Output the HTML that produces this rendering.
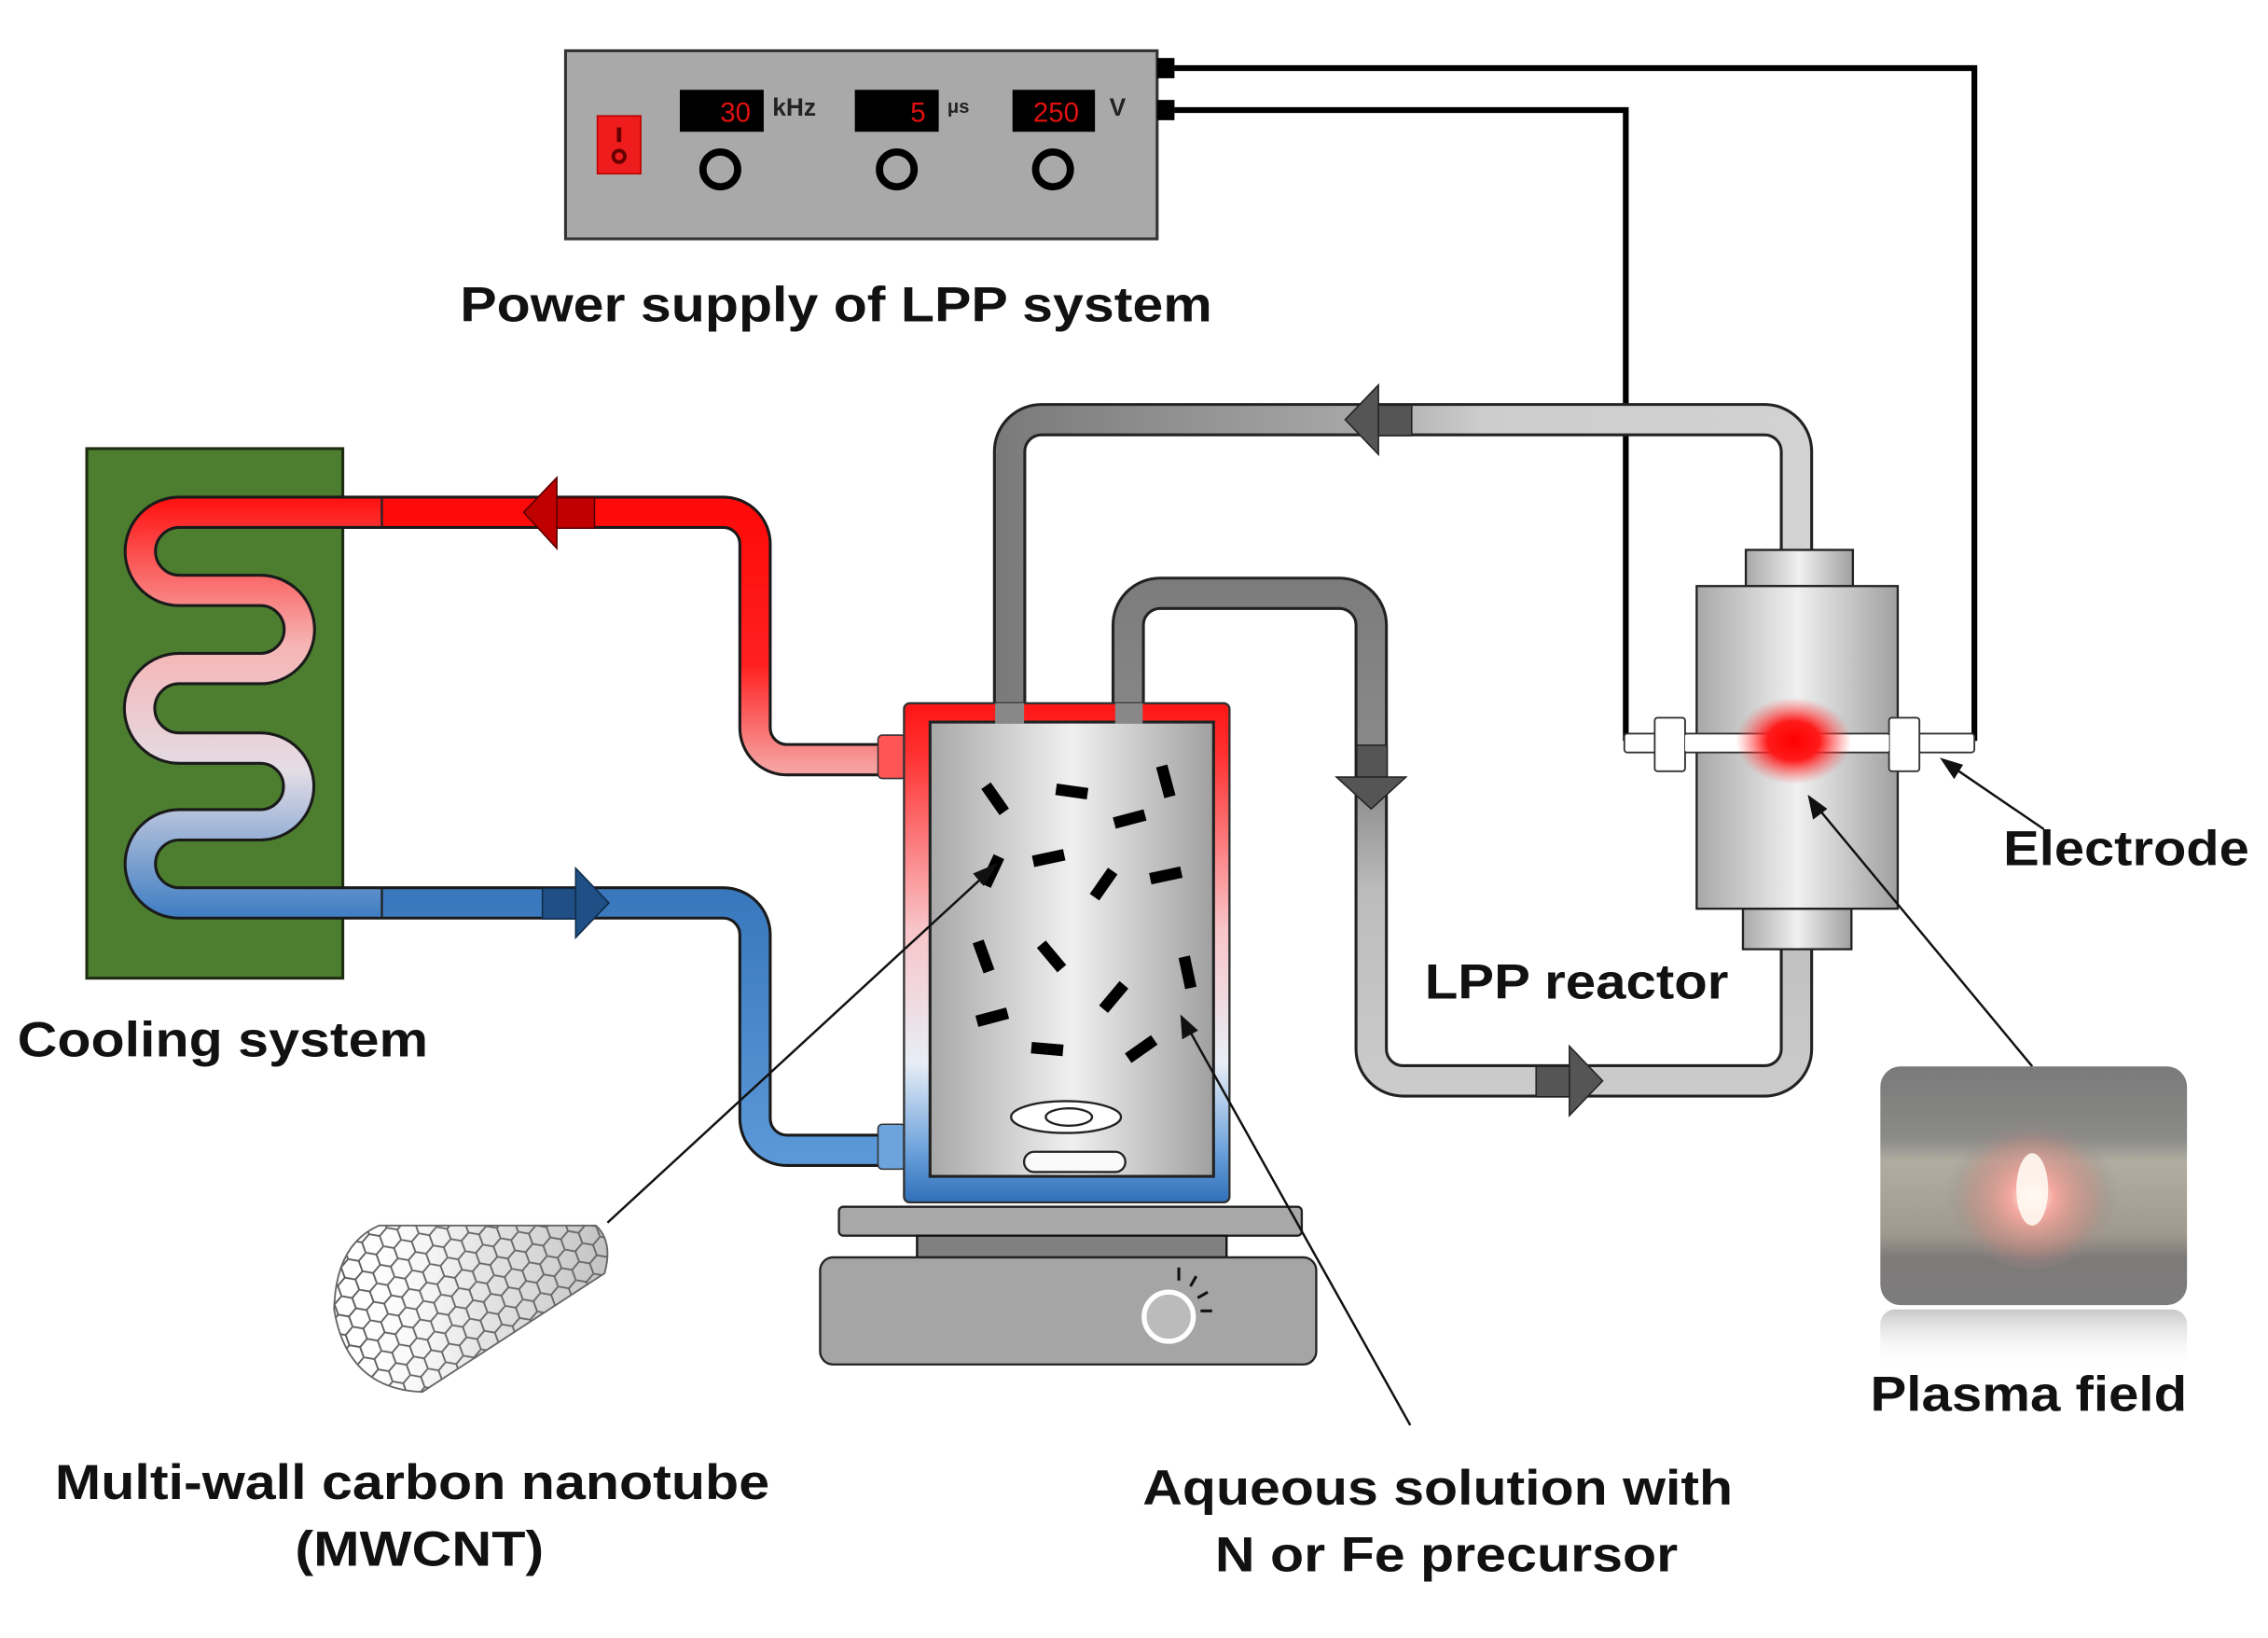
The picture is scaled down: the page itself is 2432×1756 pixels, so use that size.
<!DOCTYPE html>
<html><head><meta charset="utf-8"><style>
html,body{margin:0;padding:0;background:#fff;}
svg{display:block;}
text{font-family:"Liberation Sans",Arial,sans-serif;font-weight:bold;fill:#111;}
</style></head><body>
<svg width="2432" height="1756" viewBox="0 0 1568 1132" xmlns="http://www.w3.org/2000/svg">
<defs>
<linearGradient id="serp" gradientUnits="userSpaceOnUse" x1="0" y1="344" x2="0" y2="634">
<stop offset="0" stop-color="#ff1010"/><stop offset="0.35" stop-color="#f6b4b4"/><stop offset="0.65" stop-color="#e4dde6"/><stop offset="1" stop-color="#3e7dc2"/></linearGradient>
<linearGradient id="redp" gradientUnits="userSpaceOnUse" x1="0" y1="354" x2="0" y2="530">
<stop offset="0" stop-color="#ff0a0a"/><stop offset="0.6" stop-color="#ff2020"/><stop offset="1" stop-color="#f7a0a0"/></linearGradient>
<linearGradient id="bluep" gradientUnits="userSpaceOnUse" x1="0" y1="620" x2="0" y2="800">
<stop offset="0" stop-color="#3a78bd"/><stop offset="1" stop-color="#5a98d8"/></linearGradient>
<linearGradient id="jacket" x1="0" y1="0" x2="0" y2="1">
<stop offset="0" stop-color="#ff1515"/><stop offset="0.1" stop-color="#ff3030"/><stop offset="0.45" stop-color="#f8c4c8"/><stop offset="0.72" stop-color="#e8eef6"/><stop offset="0.9" stop-color="#6aa0da"/><stop offset="1" stop-color="#2f6fb8"/></linearGradient>
<linearGradient id="metal" x1="0" y1="0" x2="1" y2="0">
<stop offset="0" stop-color="#a8a8a8"/><stop offset="0.5" stop-color="#f0f0f0"/><stop offset="1" stop-color="#a0a0a0"/></linearGradient>
<linearGradient id="gp1" gradientUnits="userSpaceOnUse" x1="690" y1="0" x2="1250" y2="0">
<stop offset="0" stop-color="#7a7a7a"/><stop offset="0.45" stop-color="#a8a8a8"/><stop offset="0.6" stop-color="#cdcdcd"/><stop offset="1" stop-color="#d2d2d2"/></linearGradient>
<linearGradient id="gp2" gradientUnits="userSpaceOnUse" x1="0" y1="400" x2="0" y2="760">
<stop offset="0" stop-color="#7c7c7c"/><stop offset="0.4" stop-color="#8c8c8c"/><stop offset="0.6" stop-color="#bcbcbc"/><stop offset="1" stop-color="#cccccc"/></linearGradient>
<radialGradient id="glow" cx="0.5" cy="0.5" r="0.5">
<stop offset="0" stop-color="#ff0000"/><stop offset="0.45" stop-color="#ff1a1a"/><stop offset="1" stop-color="#ff5050" stop-opacity="0"/></radialGradient>
<radialGradient id="pglow" cx="0.5" cy="0.55" r="0.5">
<stop offset="0" stop-color="#fffaf4"/><stop offset="0.25" stop-color="#f4a8a0"/><stop offset="0.7" stop-color="#c88a80" stop-opacity="0.45"/><stop offset="1" stop-color="#888" stop-opacity="0"/></radialGradient>
<linearGradient id="photo" x1="0" y1="0" x2="0" y2="1">
<stop offset="0" stop-color="#7a7a7a"/><stop offset="0.3" stop-color="#8a8a88"/><stop offset="0.4" stop-color="#b0ada0"/><stop offset="0.7" stop-color="#a09a8e"/><stop offset="0.8" stop-color="#7e7a7a"/><stop offset="1" stop-color="#7c7c7c"/></linearGradient>
<linearGradient id="refl" x1="0" y1="0" x2="0" y2="1">
<stop offset="0" stop-color="#c8c8c8"/><stop offset="1" stop-color="#fff" stop-opacity="0"/></linearGradient>
<linearGradient id="tubeshade" gradientUnits="userSpaceOnUse" x1="240" y1="0" x2="420" y2="0">
<stop offset="0" stop-color="#fff" stop-opacity="0"/><stop offset="0.5" stop-color="#999" stop-opacity="0.25"/><stop offset="1" stop-color="#777" stop-opacity="0.45"/></linearGradient>
<pattern id="hex" width="13" height="22.5" patternUnits="userSpaceOnUse" patternTransform="rotate(-20)">
<path d="M0,3.75 L6.5,0 L13,3.75 M6.5,0 V-3 M0,3.75 V11.25 L6.5,15 L13,11.25 V3.75 M6.5,15 V22.5" fill="none" stroke="#555" stroke-width="1.2"/></pattern>
<clipPath id="tubeclip"><path d="M262,847 L412,847 Q424,858 418,880 L292,962 Q240,960 231,905 Q232,860 262,847 Z"/></clipPath>
</defs>

<!-- Power supply -->
<rect x="391" y="35" width="409" height="130" fill="#a9a9a9" stroke="#333" stroke-width="2"/>
<rect x="413" y="80" width="30" height="40" fill="#ee1c1c" stroke="#b00" stroke-width="1"/>
<line x1="428" y1="88" x2="428" y2="98" stroke="#600" stroke-width="3"/>
<circle cx="428" cy="108" r="4" fill="none" stroke="#600" stroke-width="2.5"/>
<rect x="470" y="62" width="58" height="29" fill="#000"/>
<rect x="591" y="62" width="58" height="29" fill="#000"/>
<rect x="700" y="62" width="57" height="29" fill="#000"/>
<text x="519" y="84" font-size="19" text-anchor="end" style="fill:#e01010;font-weight:normal">30</text>
<text x="640" y="84" font-size="19" text-anchor="end" style="fill:#e01010;font-weight:normal">5</text>
<text x="746" y="84" font-size="19" text-anchor="end" style="fill:#e01010;font-weight:normal">250</text>
<text x="534" y="80" font-size="17" style="fill:#222">kHz</text>
<text x="655" y="78" font-size="13" style="fill:#222">μs</text>
<text x="767" y="80" font-size="17" style="fill:#222">V</text>
<circle cx="498" cy="117" r="12" fill="#a9a9a9" stroke="#000" stroke-width="5"/>
<circle cx="620" cy="117" r="12" fill="#a9a9a9" stroke="#000" stroke-width="5"/>
<circle cx="728" cy="117" r="12" fill="#a9a9a9" stroke="#000" stroke-width="5"/>
<rect x="800" y="40" width="12" height="14" fill="#000"/>
<rect x="800" y="69" width="12" height="14" fill="#000"/>
<text x="318" y="222" font-size="34" textLength="520" lengthAdjust="spacingAndGlyphs">Power supply of LPP system</text>

<!-- wires -->
<polyline points="812,47 1365,47 1365,512" fill="none" stroke="#000" stroke-width="4"/>
<polyline points="812,76 1124,76 1124,512" fill="none" stroke="#000" stroke-width="4"/>

<!-- Green cooler -->
<rect x="60" y="310" width="177" height="366" fill="#4d7e2f" stroke="#1d2d12" stroke-width="2"/>
<path d="M264,354 H124 A27,27 0 0 0 124,408 H180 A27,27 0 0 1 180,462 H124 A27.5,27.5 0 0 0 124,517 H180 A26.5,26.5 0 0 1 180,570 H124 A27,27 0 0 0 124,624 H264" fill="none" stroke="#1a1a1a" stroke-width="23"/>
<path d="M264,354 H124 A27,27 0 0 0 124,408 H180 A27,27 0 0 1 180,462 H124 A27.5,27.5 0 0 0 124,517 H180 A26.5,26.5 0 0 1 180,570 H124 A27,27 0 0 0 124,624 H264" fill="none" stroke="url(#serp)" stroke-width="19"/>

<!-- red pipe -->
<path d="M264,354 H500 A22,22 0 0 1 522,376 V503 A22,22 0 0 0 544,525 H610" fill="none" stroke="#1a1a1a" stroke-width="23"/>
<path d="M264,354 H500 A22,22 0 0 1 522,376 V503 A22,22 0 0 0 544,525 H610" fill="none" stroke="url(#redp)" stroke-width="19"/>
<line x1="264" y1="344" x2="264" y2="364" stroke="#222" stroke-width="1.5"/>
<rect x="384" y="344" width="27" height="21" fill="#c00000" stroke="#500" stroke-width="1"/>
<polygon points="385,330 362,354 385,379" fill="#c00000" stroke="#500" stroke-width="1"/>

<!-- blue pipe -->
<path d="M264,624 H500 A22,22 0 0 1 522,646 V773 A22,22 0 0 0 544,795 H610" fill="none" stroke="#1a1a1a" stroke-width="23"/>
<path d="M264,624 H500 A22,22 0 0 1 522,646 V773 A22,22 0 0 0 544,795 H610" fill="none" stroke="url(#bluep)" stroke-width="19"/>
<line x1="264" y1="614" x2="264" y2="634" stroke="#222" stroke-width="1.5"/>
<rect x="375" y="614" width="24" height="21" fill="#1f4f85" stroke="#0f2a48" stroke-width="1"/>
<polygon points="398,600 421,624 398,648" fill="#1f4f85" stroke="#0f2a48" stroke-width="1"/>

<!-- gray loop top -->
<path d="M698,500 V312 A22,22 0 0 1 720,290 H1220 A22,22 0 0 1 1242,312 V382" fill="none" stroke="#222" stroke-width="23"/>
<path d="M698,500 V312 A22,22 0 0 1 720,290 H1220 A22,22 0 0 1 1242,312 V382" fill="none" stroke="url(#gp1)" stroke-width="19"/>
<rect x="952" y="280" width="24" height="21" fill="#555" stroke="#222" stroke-width="1"/>
<polygon points="953,266 930,290 953,314" fill="#555" stroke="#222" stroke-width="1"/>

<!-- gray loop 2 -->
<path d="M780,500 V432 A22,22 0 0 1 802,410 H926 A22,22 0 0 1 948,432 V725 A22,22 0 0 0 970,747 H1220 A22,22 0 0 0 1242,725 V654" fill="none" stroke="#222" stroke-width="23"/>
<path d="M780,500 V432 A22,22 0 0 1 802,410 H926 A22,22 0 0 1 948,432 V725 A22,22 0 0 0 970,747 H1220 A22,22 0 0 0 1242,725 V654" fill="none" stroke="url(#gp2)" stroke-width="19"/>
<rect x="938" y="515" width="21" height="23" fill="#555" stroke="#222" stroke-width="1"/>
<polygon points="924,537 948,559 972,537" fill="#555" stroke="#222" stroke-width="1"/>
<rect x="1062" y="737" width="24" height="21" fill="#555" stroke="#222" stroke-width="1"/>
<polygon points="1085,723 1108,747 1085,771" fill="#555" stroke="#222" stroke-width="1"/>

<!-- vessel -->
<rect x="607" y="508" width="19" height="30" rx="3" fill="#f55" stroke="#333" stroke-width="1"/>
<rect x="607" y="777" width="19" height="31" rx="3" fill="#6da4dc" stroke="#333" stroke-width="1"/>
<rect x="625" y="486" width="225" height="345" rx="4" fill="url(#jacket)" stroke="#333" stroke-width="1.5"/>
<rect x="643" y="499" width="196" height="314" fill="url(#metal)" stroke="#222" stroke-width="2"/>
<rect x="688" y="486" width="20" height="14" fill="#888"/>
<rect x="771" y="486" width="19" height="14" fill="#888"/>
<g fill="#000">
<rect x="-11" y="-4" width="22" height="8" transform="translate(688,552) rotate(55)"/>
<rect x="-11" y="-4" width="22" height="8" transform="translate(741,547) rotate(8)"/>
<rect x="-11" y="-4" width="22" height="8" transform="translate(806,540) rotate(75)"/>
<rect x="-11" y="-4" width="22" height="8" transform="translate(781,566) rotate(-15)"/>
<rect x="-11" y="-4" width="22" height="8" transform="translate(686,602) rotate(-65)"/>
<rect x="-11" y="-4" width="22" height="8" transform="translate(725,593) rotate(-12)"/>
<rect x="-11" y="-4" width="22" height="8" transform="translate(763,611) rotate(-55)"/>
<rect x="-11" y="-4" width="22" height="8" transform="translate(806,605) rotate(-12)"/>
<rect x="-11" y="-4" width="22" height="8" transform="translate(680,661) rotate(70)"/>
<rect x="-11" y="-4" width="22" height="8" transform="translate(727,661) rotate(50)"/>
<rect x="-11" y="-4" width="22" height="8" transform="translate(821,672) rotate(78)"/>
<rect x="-11" y="-4" width="22" height="8" transform="translate(770,689) rotate(-50)"/>
<rect x="-11" y="-4" width="22" height="8" transform="translate(686,703) rotate(-15)"/>
<rect x="-11" y="-4" width="22" height="8" transform="translate(724,725) rotate(5)"/>
<rect x="-11" y="-4" width="22" height="8" transform="translate(789,725) rotate(-35)"/>
</g>
<ellipse cx="737" cy="772" rx="38" ry="11" fill="#fff" stroke="#222" stroke-width="1.5"/>
<ellipse cx="739" cy="772" rx="16" ry="6" fill="none" stroke="#222" stroke-width="1.5"/>
<rect x="708" y="796" width="70" height="14" rx="7" fill="#fafafa" stroke="#222" stroke-width="1.5"/>

<!-- hot plate -->
<rect x="580" y="834" width="320" height="20" rx="3" fill="#a8a8a8" stroke="#222" stroke-width="1.5"/>
<rect x="634" y="854" width="214" height="15" fill="#808080" stroke="#111" stroke-width="1.5"/>
<rect x="567" y="869" width="343" height="74" rx="9" fill="#a5a5a5" stroke="#222" stroke-width="1.5"/>
<circle cx="808" cy="910" r="17" fill="#bbb" stroke="#fff" stroke-width="3.5"/>
<g stroke="#111" stroke-width="2"><line x1="815" y1="885" x2="815" y2="876"/><line x1="823" y1="889" x2="827" y2="882"/><line x1="828" y1="897" x2="835" y2="893"/><line x1="830" y1="906" x2="838" y2="906"/></g>

<!-- reactor -->
<rect x="1207" y="380" width="74" height="25" fill="url(#metal)" stroke="#222" stroke-width="1.5"/>
<rect x="1205" y="628" width="75" height="28" fill="url(#metal)" stroke="#222" stroke-width="1.5"/>
<rect x="1173" y="405" width="139" height="223" fill="url(#metal)" stroke="#222" stroke-width="1.5"/>
<rect x="1123" y="507" width="242" height="13" rx="2" fill="#fff" stroke="#333" stroke-width="1.2"/>
<rect x="1144" y="496" width="21" height="37" rx="2" fill="#fff" stroke="#333" stroke-width="1.2"/>
<rect x="1306" y="496" width="21" height="37" rx="2" fill="#fff" stroke="#333" stroke-width="1.2"/>
<rect x="1165" y="508" width="141" height="11" fill="#fff"/>
<ellipse cx="1240" cy="512" rx="40" ry="30" fill="url(#glow)"/>

<!-- pointer lines -->
<g stroke="#111" stroke-width="1.6" fill="#111">
<line x1="420" y1="845" x2="684" y2="602"/><polygon points="688,598 674,604 680,611"/>
<line x1="975" y1="985" x2="820" y2="708"/><polygon points="817,703 818,717 827,712"/>
<line x1="1405" y1="737" x2="1254" y2="555"/><polygon points="1251,551 1254,565 1262,559"/>
<line x1="1413" y1="573" x2="1347" y2="528"/><polygon points="1343,525 1351,537 1356,529"/>
</g>

<!-- nanotube -->
<g clip-path="url(#tubeclip)">
<rect x="220" y="840" width="210" height="130" fill="#fff"/>
<rect x="220" y="840" width="210" height="130" fill="url(#hex)"/>
<rect x="220" y="840" width="210" height="130" fill="url(#tubeshade)"/>
</g>
<path d="M262,847 L412,847 Q424,858 418,880 L292,962 Q240,960 231,905 Q232,860 262,847 Z" fill="none" stroke="#666" stroke-width="1.2"/>

<!-- plasma photo -->
<rect x="1300" y="737" width="212" height="165" rx="14" fill="url(#photo)"/>
<ellipse cx="1405" cy="822" rx="60" ry="55" fill="url(#pglow)"/>
<ellipse cx="1405" cy="822" rx="11" ry="25" fill="#fffaf2" opacity="0.9"/>
<rect x="1300" y="905" width="212" height="40" rx="10" fill="url(#refl)"/>

<!-- labels -->
<text x="12" y="730" font-size="34" textLength="284" lengthAdjust="spacingAndGlyphs">Cooling system</text>
<text x="38" y="1036" font-size="34" textLength="494" lengthAdjust="spacingAndGlyphs">Multi-wall carbon nanotube</text>
<text x="204" y="1082" font-size="34" textLength="172" lengthAdjust="spacingAndGlyphs">(MWCNT)</text>
<text x="790" y="1040" font-size="34" textLength="408" lengthAdjust="spacingAndGlyphs">Aqueous solution with</text>
<text x="840" y="1086" font-size="34" textLength="320" lengthAdjust="spacingAndGlyphs">N or Fe precursor</text>
<text x="985" y="690" font-size="34" textLength="210" lengthAdjust="spacingAndGlyphs">LPP reactor</text>
<text x="1385" y="598" font-size="34" textLength="170" lengthAdjust="spacingAndGlyphs">Electrode</text>
<text x="1293" y="975" font-size="34" textLength="219" lengthAdjust="spacingAndGlyphs">Plasma field</text>
</svg>
</body></html>
